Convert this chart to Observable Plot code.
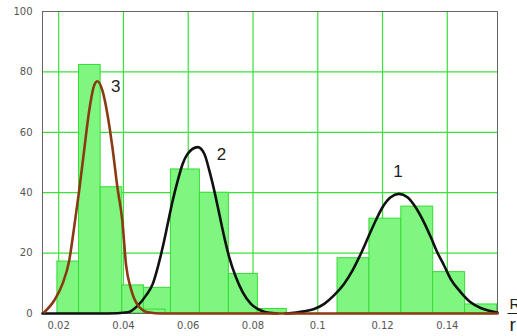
<!DOCTYPE html>
<html>
<head>
<meta charset="utf-8">
<script src="https://cdn.jsdelivr.net/npm/d3@7"></script>
<script src="https://cdn.jsdelivr.net/npm/@observablehq/plot@0.6"></script>
<style>
  html, body { margin: 0; padding: 0; background: #fff; }
  #chart svg { display: block; }
</style>
</head>
<body>
<div id="chart"></div>
<script>
// Tick labels
const xTicks = [0.02, 0.04, 0.06, 0.08, 0.1, 0.12, 0.14];
const yTicks = [0, 20, 40, 60, 80, 100];
const xGrid = [0.02, 0.04, 0.06, 0.08, 0.1, 0.12, 0.14];
const yGrid = [20, 40, 60, 80];

// Histograms (bin edges and heights)
const hist3Edges = [0.0196, 0.02628, 0.03296, 0.03964, 0.04632, 0.053];
const hist3Heights = [17.2, 82.3, 41.8, 9.3, 1.3];
const hist2Edges = [0.0457, 0.05465, 0.0636, 0.07255, 0.0815, 0.09045];
const hist2Heights = [8.5, 47.7, 40, 13.1, 1.5];
const hist1Edges = [0.1061, 0.11595, 0.1258, 0.13565, 0.1455, 0.15535];
const hist1Heights = [18.3, 31.4, 35.4, 13.7, 3.0];

// Fitted curves
const curve3X = [0.01553, 0.01861, 0.02117, 0.02324, 0.02478, 0.02632, 0.02786, 0.0294, 0.03095, 0.03196, 0.03351, 0.03505, 0.03659, 0.03813, 0.03967, 0.04081, 0.04236, 0.04442, 0.04751, 0.052, 0.1555];
const curve3Y = [0.4, 4.3, 9.8, 17.5, 28.6, 40.7, 54, 67, 75.5, 76.9, 73.8, 66, 55, 41.8, 30.5, 16, 8, 2.8, 0.4, 0, 0];
const curve2X = [0.015, 0.035, 0.04134, 0.04442, 0.04698, 0.04905, 0.05059, 0.05213, 0.05367, 0.05521, 0.05676, 0.0583, 0.05984, 0.06292, 0.06496, 0.0665, 0.06804, 0.06958, 0.07113, 0.07267, 0.07473, 0.0768, 0.07936, 0.08244, 0.085, 0.0875];
const curve2Y = [0, 0, 0.4, 2.6, 6.0, 9.8, 15.3, 22, 29.7, 37.4, 44, 49.6, 52.9, 55.1, 52.9, 47.4, 40.7, 33, 25.3, 18.6, 12, 7.1, 3.2, 1, 0.2, 0];
const curve1X = [0.09, 0.0958, 0.0989, 0.102, 0.105, 0.1081, 0.1107, 0.1133, 0.1158, 0.1179, 0.12, 0.1225, 0.1251, 0.1277, 0.1302, 0.1328, 0.1349, 0.1369, 0.139, 0.141, 0.1441, 0.1472, 0.1503, 0.1534, 0.1555];
const curve1Y = [0, 0.7, 1.5, 3.2, 6, 9.8, 14.2, 19.8, 25.8, 30.8, 35.2, 38.5, 39.6, 38.5, 35.2, 30.2, 25.3, 20.3, 15.9, 11.5, 7.1, 3.7, 1.8, 0.8, 0.3];

// Peak labels
const labelNames = ["1", "2", "3"];
const labelX = [0.1248, 0.0703, 0.0376];
const labelY = [47, 52.6, 75.2];

const bins = (edges, heights) => heights.map((h, i) => ({x1: edges[i], x2: edges[i + 1], y: h}));
const pts = (xs, ys) => xs.map((x, i) => ({x, y: ys[i]}));
const labels = labelNames.map((t, i) => ({t, x: labelX[i], y: labelY[i]}));

const barStyle = {x1: "x1", x2: "x2", y: "y", fill: "#7ff67f", stroke: "#36dc36", strokeWidth: 1, insetLeft: 0, insetRight: 0};

const chart = Plot.plot({
  width: 517,
  height: 336,
  marginLeft: 42,
  marginRight: 20,
  marginTop: 11,
  marginBottom: 23,
  style: {fontFamily: "DejaVu Sans", fontSize: "10px", background: "#fff", overflow: "visible"},
  x: {domain: [0.015, 0.1555]},
  y: {domain: [0, 100]},
  marks: [
    Plot.gridX(xGrid, {stroke: "#3be03b", strokeOpacity: 1, strokeWidth: 1.2}),
    Plot.gridY(yGrid, {stroke: "#3be03b", strokeOpacity: 1, strokeWidth: 1.2}),
    Plot.rectY(bins(hist1Edges, hist1Heights), barStyle),
    Plot.rectY(bins(hist2Edges, hist2Heights), barStyle),
    Plot.rectY(bins(hist3Edges, hist3Heights), barStyle),
    Plot.frame({stroke: "#666", strokeWidth: 1}),
    Plot.line(pts(curve2X, curve2Y), {x: "x", y: "y", stroke: "#111", strokeWidth: 2.6, curve: "monotone-x"}),
    Plot.line(pts(curve1X, curve1Y), {x: "x", y: "y", stroke: "#111", strokeWidth: 2.6, curve: "monotone-x"}),
    Plot.line(pts(curve3X, curve3Y), {x: "x", y: "y", stroke: "#8a3a12", strokeWidth: 2.6, curve: "monotone-x"}),
    Plot.text(labels, {x: "x", y: "y", text: "t", fontSize: 17, fontFamily: "Liberation Sans", fill: "#222"}),
    Plot.axisX(xTicks, {tickSize: 0, tickPadding: 8, fill: "#555", tickFormat: d => String(+d.toFixed(2)), label: null}),
    Plot.axisY(yTicks, {tickSize: 0, tickPadding: 10, fill: "#555", label: null}),
    Plot.text(["R"], {frameAnchor: "bottom-right", text: d => d, textAnchor: "start", lineAnchor: "bottom", dx: 12, dy: -5, fontSize: 15, fontFamily: "Liberation Sans", fill: "#222"}),
    Plot.text(["—"], {frameAnchor: "bottom-right", text: d => d, textAnchor: "start", lineAnchor: "middle", dx: 10, dy: 0, fontSize: 12, fontFamily: "Liberation Sans", fill: "#222"}),
    Plot.text(["r"], {frameAnchor: "bottom-right", text: d => d, textAnchor: "start", lineAnchor: "top", dx: 12, dy: 4, fontSize: 19, fontFamily: "Liberation Sans", fill: "#222"})
  ]
});
document.getElementById("chart").appendChild(chart);
</script>
</body>
</html>
